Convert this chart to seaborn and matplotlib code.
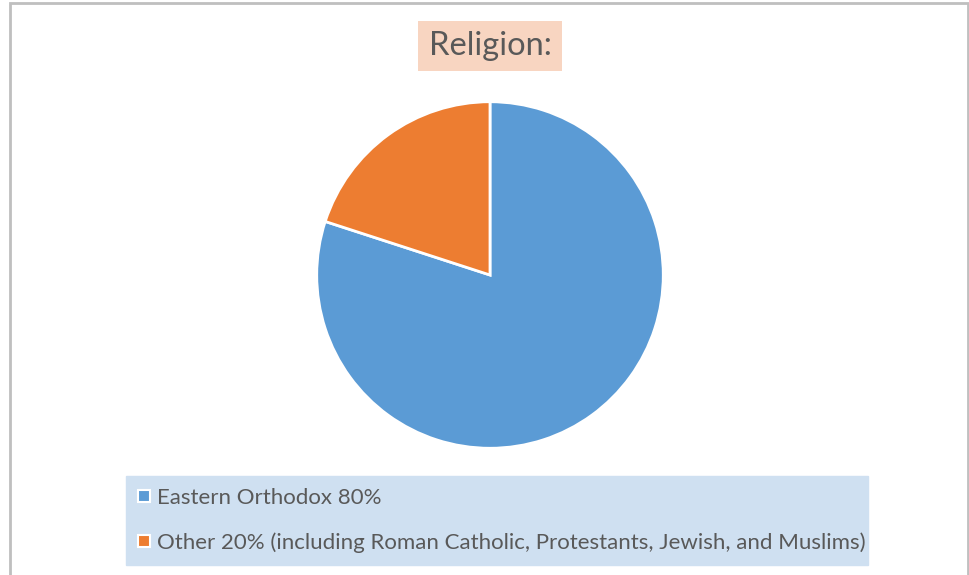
import matplotlib
matplotlib.use("Agg")
import matplotlib.pyplot as plt
from matplotlib.lines import Line2D
from matplotlib.patches import Rectangle
import seaborn as sns

labels = ["Eastern Orthodox 80%",
          "Other 20% (including Roman Catholic, Protestants, Jewish, and Muslims)"]
shares = [80, 20]
colors = ["#5B9BD5", "#ED7D31"]
title = "Religion:"

sns.set_theme(style="white")
plt.rcParams['font.family'] = ['Lato', 'DejaVu Sans']

W, H = 970, 575
fig = plt.figure(figsize=(W / 100, H / 100), dpi=100)
fig.patch.set_facecolor("white")

# chart border
fig.add_artist(Rectangle((10 / W, -0.05), 958 / W, 1 - 3 / H + 0.05,
                         transform=fig.transFigure, fill=False,
                         edgecolor="#BFBFBF", linewidth=2))

cx, cy, r = 490, 275, 175
ax = fig.add_axes([(cx - r) / W, (H - cy - r) / H, 2 * r / W, 2 * r / H])
wedges, _ = ax.pie(shares, colors=colors, startangle=90, counterclock=False,
                   wedgeprops=dict(edgecolor="white", linewidth=2))
ax.set_xlim(-1.01, 1.01)
ax.set_ylim(-1.01, 1.01)
ax.set_aspect("equal")
ax.axis("off")

fig.text(cx / W, 1 - 46 / H, title, ha="center", va="center", fontsize=23.5,
         color="#595959",
         bbox=dict(boxstyle="square,pad=0.32", facecolor="#F8D5C1",
                   edgecolor="none"))

handles = [Line2D([], [], marker="s", linestyle="none", markersize=8.5,
                  markerfacecolor=c, markeredgecolor="white",
                  markeredgewidth=1.5) for c in colors]
leg = fig.legend(handles, labels, loc="upper left",
                 bbox_to_anchor=(126 / W, 1 - 476 / H, 742 / W, 0),
                 mode="expand", ncol=1, fontsize=16, frameon=True,
                 fancybox=False, facecolor="#CFE0F1", edgecolor="#CFE0F1",
                 framealpha=1, labelcolor="#595959", handlelength=0.55,
                 handletextpad=0.3, labelspacing=1.1, borderpad=0.55,
                 borderaxespad=0)

fig.savefig("out.png", dpi=100)
